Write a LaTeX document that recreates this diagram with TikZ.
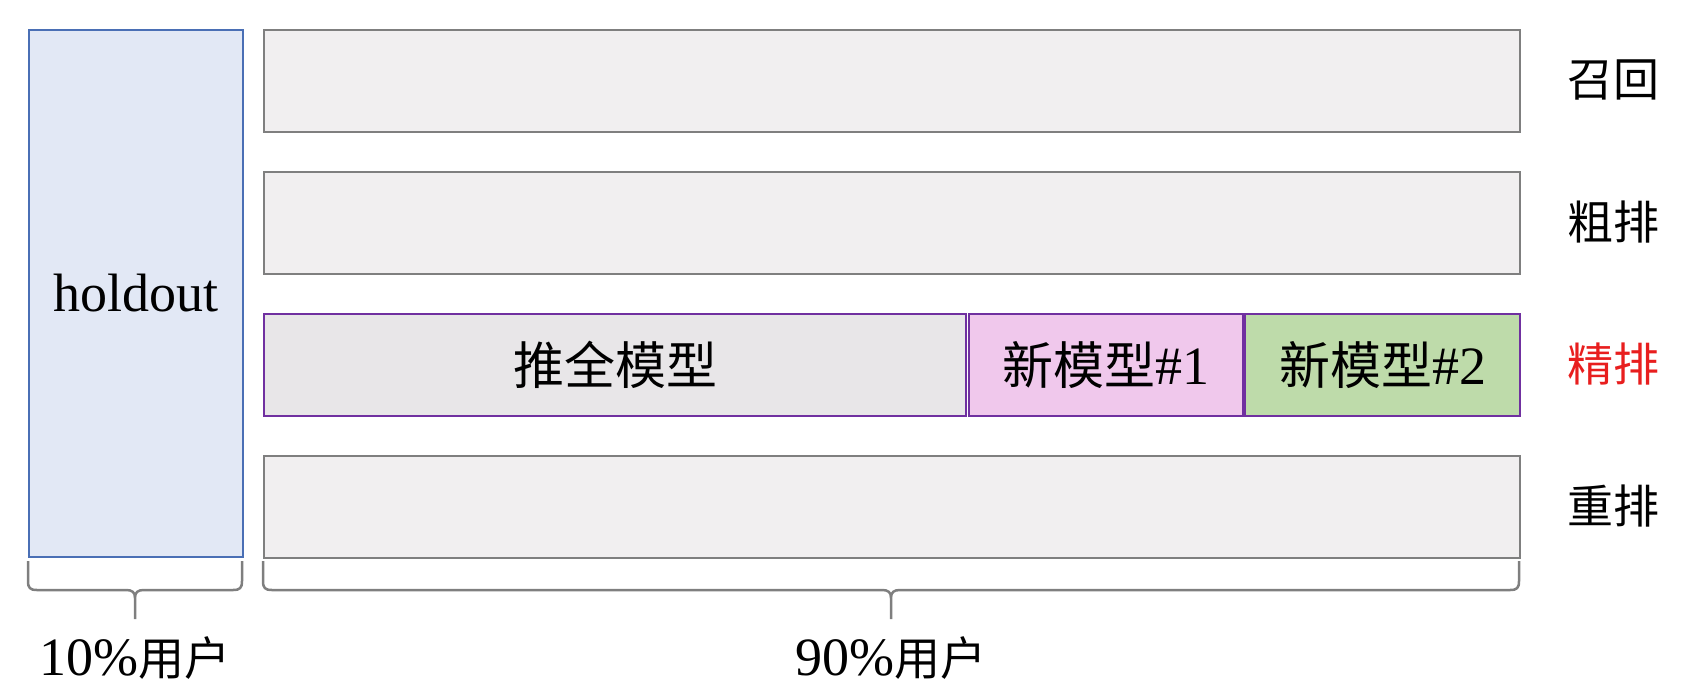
\documentclass[tikz,border=0pt]{standalone}
\usepackage{fontspec}
\setmainfont{Liberation Serif}
\newfontfamily\cjk{Noto Sans CJK SC}
\newcommand\zhbox[1]{{\cjk\fontsize{51}{60}\selectfont #1}}
\newcommand\zhlab[1]{{\cjk\fontsize{46}{56}\selectfont #1}}
\definecolor{holdfill}{HTML}{E2E8F5}
\definecolor{holdline}{HTML}{4A6FB5}
\definecolor{grayfill}{HTML}{F1EFF0}
\definecolor{grayline}{HTML}{7F7F7F}
\definecolor{purpline}{HTML}{7030A0}
\definecolor{allfill}{HTML}{E8E6E8}
\definecolor{onefill}{HTML}{F0C8EC}
\definecolor{twofill}{HTML}{BEDBAA}
\definecolor{redtxt}{HTML}{E81E1E}
\tikzset{
  box/.style={draw, inner sep=0pt, anchor=north west, line width=2pt},
  graybox/.style={box, fill=grayfill, draw=grayline, minimum width=1256pt, minimum height=102pt},
  purpbox/.style={box, draw=purpline, minimum height=102pt},
  big/.style={font=\fontsize{54}{60}\selectfont},
  bracepath/.style={draw=grayline, line width=2.5pt, line join=round},
}
\begin{document}
\begin{tikzpicture}[x=1pt,y=-1pt]
\useasboundingbox (0,0) rectangle (1692,694);
\node[box, fill=holdfill, draw=holdline, minimum width=214pt, minimum height=527pt] (hold) at (28,29) {};
\node[big] at (hold.center) {holdout};
\node[graybox] (r1) at (263,29) {};
\node[graybox] (r2) at (263,171) {};
\node[purpbox, fill=allfill, minimum width=702pt] (m0) at (263,313) {};
\node[purpbox, fill=onefill, minimum width=274pt] (m1) at (968,313) {};
\node[purpbox, fill=twofill, minimum width=275pt] (m2) at (1244,313) {};
\node[graybox] (r4) at (263,455) {};
\node[big] at (m0.center) {\zhbox{推全模型}};
\node[big] at (m1.center) {\zhbox{新模型}\#1};
\node[big] at (m2.center) {\zhbox{新模型}\#2};
\node[big, anchor=center] (l1) at (1613,80) {\zhlab{召回}};
\node[big, anchor=center] (l2) at (1613,222) {\zhlab{粗排}};
\node[big, anchor=center, text=redtxt] (l3) at (1613,364) {\zhlab{精排}};
\node[big, anchor=center] (l4) at (1613,506) {\zhlab{重排}};
% braces
\coordinate (a1) at (28,561);
\coordinate (a2) at (242,561);
\coordinate (b1) at (263,561);
\coordinate (b2) at (1519,561);
\draw[bracepath] (a1) -- (28,581) .. controls (28,588) and (30,590) .. (37,590) -- (126,590) .. controls (132,590) and (135,592) .. (135,598) -- (135,619)
  (135,598) .. controls (135,592) and (138,590) .. (144,590) -- (233,590) .. controls (240,590) and (242,588) .. (242,581) -- (a2);
\draw[bracepath] (b1) -- (263,581) .. controls (263,588) and (265,590) .. (272,590) -- (882,590) .. controls (888,590) and (891,592) .. (891,598) -- (891,619)
  (891,598) .. controls (891,592) and (894,590) .. (900,590) -- (1510,590) .. controls (1517,590) and (1519,588) .. (1519,581) -- (b2);
\node[big] (p1) at (135,658) {10\%\zhlab{用户}};
\node[big] (p2) at (891,658) {90\%\zhlab{用户}};
\end{tikzpicture}
\end{document}
